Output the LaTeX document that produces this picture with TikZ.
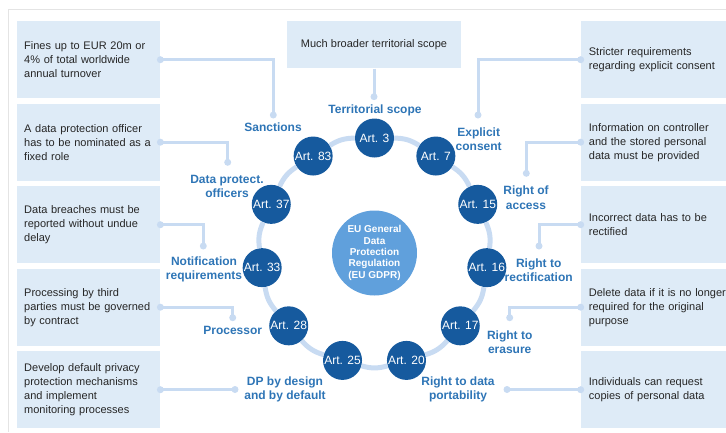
\documentclass[tikz,border=0pt]{standalone}
\usepackage{fontspec}
\setmainfont{Liberation Sans}

\definecolor{boxblue}{RGB}{222,235,247}
\definecolor{linkblue}{RGB}{200,219,242}
\definecolor{artblue}{RGB}{22,90,158}
\definecolor{hubblue}{RGB}{96,160,220}
\definecolor{labelblue}{RGB}{46,117,182}
\definecolor{boxtext}{RGB}{38,38,38}
\definecolor{framegrey}{RGB}{228,228,228}

\begin{document}
\begin{tikzpicture}[x=1pt,y=-1pt,
	infobox/.style={fill=boxblue,anchor=north west,minimum height=77pt,inner xsep=7pt,text width=129pt,align=left,text=boxtext,font=\fontsize{11}{14}\selectfont},
	rightbox/.style={infobox,inner xsep=8pt,text width=140pt},
	art/.style={circle,fill=artblue,minimum size=39pt,inner sep=0pt,text=white,font=\fontsize{12}{14}\selectfont},
	hub/.style={circle,fill=hubblue,minimum size=85pt,inner sep=0pt,align=center,text=white,font=\bfseries\fontsize{10}{11.3}\selectfont},
	topic/.style={align=center,text=labelblue,font=\bfseries\fontsize{12}{14.5}\selectfont},
	ring/.style={linkblue,line width=5pt},
	link/.style={linkblue,line width=3pt}]

%Picture size and the thin frame at top and left
	\clip (0,0) rectangle (726,432);
	\draw[framegrey,line width=1pt] (726,9.3) -- (8.3,9.3) -- (8.3,432);

%Boxes on the left
	\foreach \name/\top/\txt in {fines/21/{Fines up to EUR 20m or\\4\% of total worldwide\\annual turnover},officer/103.5/{A data protection officer\\has to be nominated as a\\fixed role},breach/186/{Data breaches must be\\reported without undue\\delay},third/268.5/{Processing by third\\parties must be governed\\by contract},privacy/351/{Develop default privacy\\protection mechanisms\\and implement\\monitoring processes}}
		\node[infobox] (\name) at (17,\top) {\txt};

%Boxes on the right
	\foreach \name/\top/\txt in {consent/21/{Stricter requirements\\regarding explicit consent},access/103.5/{Information on controller\\and the stored personal\\data must be provided},rectify/186/{Incorrect data has to be\\rectified},erase/268.5/{Delete data if it is no longer\\required for the original\\purpose},copies/351/{Individuals can request\\copies of personal data}}
		\node[rightbox] (\name) at (580.7,\top) {\txt};

%Box on top
	\node[fill=boxblue,minimum width=173.4pt,minimum height=47.3pt,text=boxtext,font=\fontsize{11}{14}\selectfont] (scope) at (374,44.7) {Much broader territorial scope};

%Ends of the connectors
	\coordinate (dTerr) at (374,96.7);
	\coordinate (dSanc) at (273.3,115);
	\coordinate (dOffic) at (227.7,162.3);
	\coordinate (dNotif) at (203.3,246);
	\coordinate (dProc) at (232.7,317.7);
	\coordinate (dDesign) at (235,389.5);
	\coordinate (dCons) at (478,115);
	\coordinate (dAccess) at (526.3,173.3);
	\coordinate (dRect) at (539,246);
	\coordinate (dErase) at (509.7,317.7);
	\coordinate (dPort) at (507,389.5);

%Connectors from the boxes to the topics
	\foreach \b/\d in {fines/dSanc,officer/dOffic,breach/dNotif,third/dProc,privacy/dDesign}
		{
		\draw[link] (\b.east) -| (\d);
		\fill[linkblue] (\b.east) circle (3.5pt) (\d) circle (3.5pt);
		}
	\foreach \b/\d in {consent/dCons,access/dAccess,rectify/dRect,erase/dErase,copies/dPort}
		{
		\draw[link] (\b.west) -| (\d);
		\fill[linkblue] (\b.west) circle (3.5pt) (\d) circle (3.5pt);
		}
	\draw[link] (scope.south) -- (dTerr);
	\fill[linkblue] (dTerr) circle (3.5pt);

%Topic labels
	\node[topic] (tTerr) at (375,110) {Territorial scope};
	\node[topic] (tSanc) at (273,127) {Sanctions};
	\node[topic] (tOffic) at (227,186.5) {Data protect.\\officers};
	\node[topic] (tNotif) at (204,269.5) {Notification\\requirements};
	\node[topic] (tProc) at (232.7,330.3) {Processor};
	\node[topic] (tDesign) at (285,389.5) {DP by design\\and by default};
	\node[topic] (tCons) at (478.7,139) {Explicit\\consent};
	\node[topic] (tAccess) at (526,197.7) {Right of\\access};
	\node[topic] (tRect) at (538.7,270) {Right to\\rectification};
	\node[topic] (tErase) at (509.7,342) {Right to\\erasure};
	\node[topic] (tPort) at (458,389.5) {Right to data\\portability};

%The 11 articles round the ring
	\coordinate (ring) at (374.5,251.5);
	\foreach \num [count=\i from 0] in {3,7,15,16,17,20,25,28,33,37,83}
		\node[art] (art\num) at ([shift={({-90+\i*360/11}:113.5)}]ring) {Art. \num};

%Ring pieces from article to article
	\foreach \a/\b in {3/7,7/15,15/16,16/17,17/20,20/25,25/28,28/33,33/37,37/83,83/3}
		\draw[ring] (art\a) to[bend left=16] (art\b);

%Regulation in the middle
	\node[hub] (hub) at (374.5,253) {EU General\\Data\\Protection\\Regulation\\(EU GDPR)};

\end{tikzpicture}
\end{document}
